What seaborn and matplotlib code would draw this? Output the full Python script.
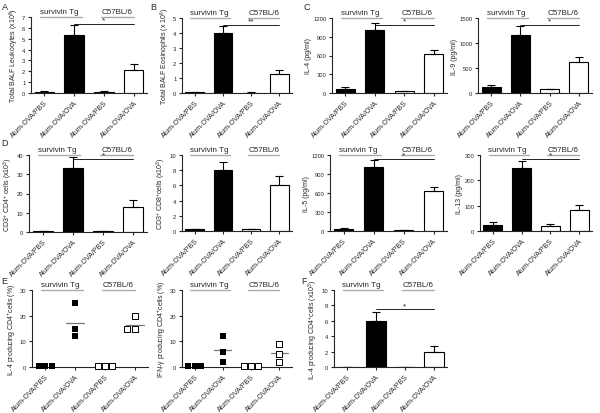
import numpy as np
import pandas as pd
import matplotlib
matplotlib.use('Agg')
import matplotlib.pyplot as plt
import seaborn as sns

# ---- data ----
groups = ['Tg PBS', 'Tg OVA', 'WT PBS', 'WT OVA']
tick_labels = ['Alum-OVA/PBS', 'Alum-OVA/OVA', 'Alum-OVA/PBS', 'Alum-OVA/OVA']
bar_colors = ['black', 'black', 'white', 'white']

leuko_mean = [0.1, 5.3, 0.1, 2.1]
leuko_err = [0.05, 0.95, 0.05, 0.55]
eos_mean = [0.04, 4.0, 0.03, 1.3]
eos_err = [0.02, 0.45, 0.02, 0.25]
il4_mean = [60, 1005, 30, 625]
il4_err = [30, 110, 10, 70]
il9_mean = [130, 1170, 80, 625]
il9_err = [40, 165, 10, 95]
cd4_mean = [0.3, 33.3, 0.3, 12.8]
cd4_err = [0.1, 5.8, 0.1, 3.9]
cd8_mean = [0.25, 8.0, 0.2, 6.0]
cd8_err = [0.05, 1.1, 0.1, 1.2]
il5_mean = [30, 1005, 10, 625]
il5_err = [10, 110, 5, 70]
il13_mean = [22, 250, 18, 82]
il13_err = [15, 28, 11, 22]
il4cells_mean = [0.03, 5.95, 0.0, 2.0]
il4cells_err = [0.0, 1.2, 0.0, 0.7]

il4pct_tg_pbs = [0.3, 0.3, 0.3]
il4pct_tg_ova = [25, 15, 12]
il4pct_wt_pbs = [0.3, 0.3, 0.3]
il4pct_wt_ova = [20, 14.8, 14.8]
ifng_tg_pbs = [0.3, 0.3, 0.3]
ifng_tg_ova = [12, 6, 2]
ifng_wt_pbs = [0.3, 0.3, 0.3]
ifng_wt_ova = [9, 5, 2]

sns.set_style('ticks')
plt.rcParams['font.family'] = ['Liberation Sans', 'DejaVu Sans']
plt.rcParams['mathtext.fontset'] = 'custom'
plt.rcParams['mathtext.rm'] = 'Liberation Sans'
plt.rcParams['axes.linewidth'] = 0.8
plt.rcParams['xtick.major.width'] = 0.8
plt.rcParams['ytick.major.width'] = 0.8
plt.rcParams['xtick.major.size'] = 2.5
plt.rcParams['ytick.major.size'] = 2.5

fig = plt.figure(figsize=(6, 4.14), dpi=100)


def px_axes(l, t, r, b):
    return fig.add_axes([l / 600, 1 - b / 414, (r - l) / 600, (b - t) / 414])


def decorate(ax, ylim, yticks, ylabel):
    ax.set_xlim(-0.45, 3.45)
    ax.set_ylim(*ylim)
    ax.set_yticks(yticks)
    ax.set_xticks(range(4))
    ax.set_xticklabels(tick_labels, rotation=45, ha='right', rotation_mode='anchor', fontsize=5)
    ax.tick_params(axis='y', labelsize=4.2, pad=1.5)
    ax.tick_params(axis='x', pad=1.5)
    ax.set_xlabel('')
    ax.set_ylabel(ylabel, fontsize=5, labelpad=1)
    sns.despine(ax=ax)
    # strain headers
    top = ylim[1]
    ax.plot([-0.15, 1.25], [top, top], color='#aaaaaa', lw=1, clip_on=False)
    ax.plot([1.9, 3.0], [top, top], color='#aaaaaa', lw=1, clip_on=False)
    ax.text(0.5, top * 1.03, 'survivin Tg', ha='center', va='bottom', fontsize=5.8)
    ax.text(2.45, top * 1.03, 'C57BL/6', ha='center', va='bottom', fontsize=5.8)


def bar_panel(ax, means, errs, ylim, yticks, ylabel, sig=None, sig_frac=0.91):
    sns.barplot(x=groups, y=means, hue=groups, order=groups, hue_order=groups,
                palette=bar_colors, edgecolor='black', linewidth=0.8, width=0.66,
                legend=False, errorbar=None, ax=ax)
    ax.errorbar(range(4), means, yerr=[np.zeros(4), errs], fmt='none', ecolor='black',
                elinewidth=0.8, capsize=3, capthick=0.8)
    decorate(ax, ylim, yticks, ylabel)
    if sig:
        y = ylim[1] * sig_frac
        ax.plot([1, 3], [y, y], color='black', lw=0.6)
        ax.text(2, y, sig, ha='center', va='bottom', fontsize=6)


def dot_panel(ax, tg_pbs, tg_ova, wt_pbs, wt_ova, ylim, yticks, ylabel):
    tg = pd.DataFrame({'group': ['Tg PBS'] * len(tg_pbs) + ['Tg OVA'] * len(tg_ova),
                       'value': tg_pbs + tg_ova})
    wt = pd.DataFrame({'group': ['WT PBS'] * len(wt_pbs) + ['WT OVA'] * len(wt_ova),
                       'value': wt_pbs + wt_ova})
    sns.swarmplot(data=tg, x='group', y='value', order=groups, marker='s', color='black',
                  size=4.5, ax=ax)
    n = len(ax.collections)
    sns.swarmplot(data=wt, x='group', y='value', order=groups, marker='s', color='black',
                  size=4.2, ax=ax)
    for coll in ax.collections[n:]:
        coll.set_facecolor('white')
        coll.set_edgecolor('black')
        coll.set_linewidth(0.7)
    for coll in ax.collections:
        coll.set_clip_on(False)
    for i, vals in enumerate([tg_pbs, tg_ova, wt_pbs, wt_ova]):
        if i % 2 == 1:
            m = np.mean(vals)
            ax.plot([i - 0.3, i + 0.3], [m, m], color='#777777', lw=0.9)
    decorate(ax, ylim, yticks, ylabel)


# row 1
ax = px_axes(31, 18, 147, 94)
bar_panel(ax, leuko_mean, leuko_err, (0, 7), range(0, 8), 'Total BALF Leukocytes (x10$^{6}$)', '*')
ax = px_axes(182, 19, 292, 94)
bar_panel(ax, eos_mean, eos_err, (0, 5), range(0, 6), 'Total BALF Eosinophils (x 10$^{6}$)', '**')
ax = px_axes(332, 19, 447, 94)
bar_panel(ax, il4_mean, il4_err, (0, 1200), range(0, 1201, 300), 'IL-4 (pg/ml)', '*')
ax = px_axes(478, 19, 592, 94)
bar_panel(ax, il9_mean, il9_err, (0, 1500), range(0, 1501, 500), 'IL-9 (pg/ml)', '*')

# row 2
ax = px_axes(29, 156, 147, 233)
bar_panel(ax, cd4_mean, cd4_err, (0, 40), range(0, 41, 10),
          'CD3$^{+}$ CD4$^{+}$ cells (x10$^{3}$)', '*', 0.95)
ax = px_axes(182, 156, 292, 232)
bar_panel(ax, cd8_mean, cd8_err, (0, 10), range(0, 11, 2), 'CD3$^{+}$ CD8$^{+}$cells (x10$^{3}$)')
ax = px_axes(330, 156, 447, 232)
bar_panel(ax, il5_mean, il5_err, (0, 1200), range(0, 1201, 300), 'IL-5 (pg/ml)', '*', 0.95)
ax = px_axes(480, 156, 592, 232)
bar_panel(ax, il13_mean, il13_err, (0, 300), range(0, 301, 100), 'IL-13 (pg/ml)', '*', 0.95)

# row 3
ax = px_axes(32, 291, 148, 368)
dot_panel(ax, il4pct_tg_pbs, il4pct_tg_ova, il4pct_wt_pbs, il4pct_wt_ova, (0, 30),
          range(0, 31, 10), 'IL-4 producing CD4$^{+}$cells (%)')
ax = px_axes(182, 291, 292, 368)
dot_panel(ax, ifng_tg_pbs, ifng_tg_ova, ifng_wt_pbs, ifng_wt_ova, (0, 30),
          range(0, 31, 10), 'IFN-\u03b3 producing CD4$^{+}$cells (%)')
ax = px_axes(334, 291, 447, 368)
bar_panel(ax, il4cells_mean, il4cells_err, (0, 10), range(0, 11, 2),
          'IL-4 producing CD4$^{+}$cells (x10$^{3}$)', '*', 0.75)

# panel letters
for letter, x, y in [('A', 2, 7), ('B', 150, 7), ('C', 303, 7), ('D', 1, 143),
                     ('E', 1, 281), ('F', 301, 281)]:
    fig.text(x / 600, 1 - y / 414, letter, fontsize=6.5, va='center')

fig.savefig('out.png', dpi=100)
